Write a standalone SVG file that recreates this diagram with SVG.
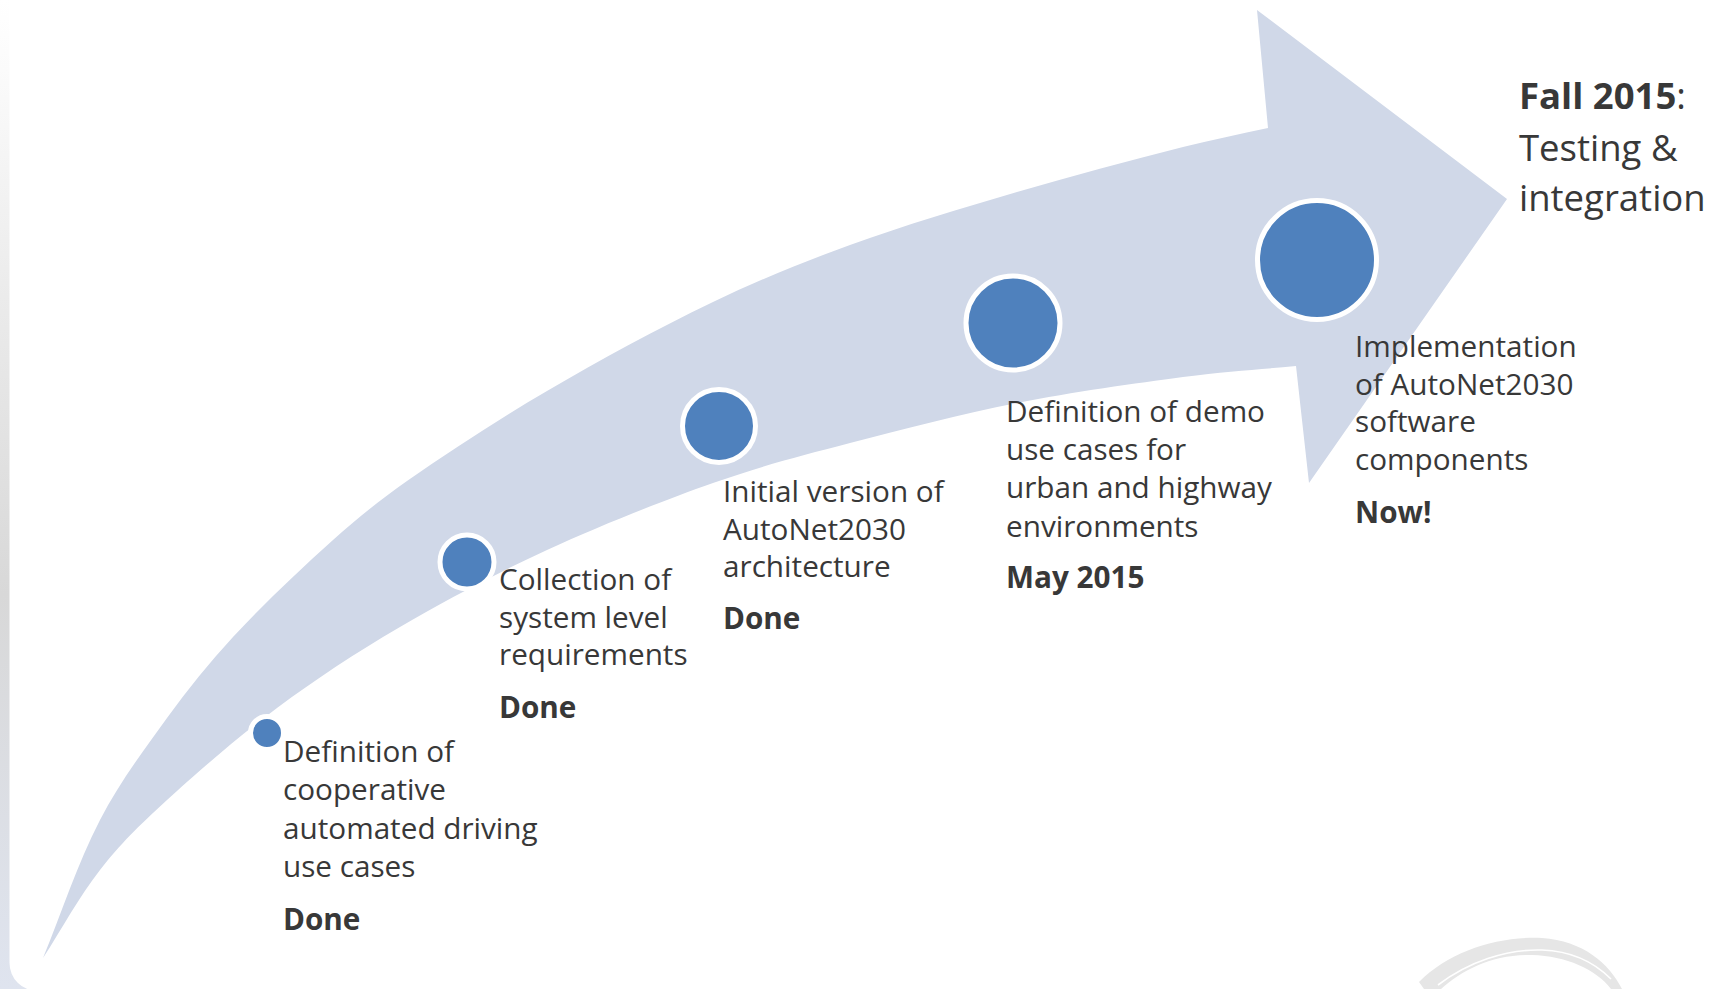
<svg xmlns="http://www.w3.org/2000/svg" width="1718" height="989" viewBox="0 0 1718 989">
  <defs>
    <linearGradient id="edgeShade" gradientUnits="userSpaceOnUse" x1="0" y1="0" x2="0" y2="989">
      <stop offset="0" stop-color="#ffffff"/>
      <stop offset="0.07" stop-color="#fbfbfb"/>
      <stop offset="0.3" stop-color="#ebebeb"/>
      <stop offset="0.6" stop-color="#d8d8d8"/>
      <stop offset="1" stop-color="#dfe4ef"/>
    </linearGradient>
    <style>
      .band { fill: #d0d8e8; }
      .dot { fill: #4f81bd; stroke: #ffffff; stroke-width: 5; }
      .lbl { font-family: "Open Sans", "Liberation Sans", sans-serif; font-size: 29.7px; fill: #383838; }
      .st { font-weight: 700; }
      .big { font-size: 36.5px; }
    </style>
  </defs>

  <!-- slide background: shaded strip on the left, white panel with rounded corner -->
  <rect x="0" y="0" width="1718" height="989" fill="url(#edgeShade)"/>
  <rect x="9.5" y="-60" width="1760" height="1051" rx="28" ry="28" fill="#ffffff"/>

  <!-- faint logo swoosh, bottom right -->
  <g id="logo-swoosh">
    <path d="M1419,982 C1450,951 1498,936 1542,938 C1583,941 1609,963 1622,989 L1611,989 C1596,969 1566,956 1532,955 C1493,954 1462,970 1441,989 L1424,989 Z" fill="#e6e6e6"/>
    <path d="M1438,985 C1468,962 1506,949 1542,950 C1570,951 1594,962 1611,979" fill="none" stroke="#ffffff" stroke-width="1.6"/>
  </g>

  <!-- curved timeline arrow -->
  <g id="connectors">
    <path id="timeline-arrow" class="band" d="M43,958
      C62,912 77.1,864.3 100,820
      C118.7,783.8 143.1,750.9 167,718
      C187.5,689.8 209.3,662.4 233,637
      C264.6,603.1 298.4,571 333,540
      C356.5,519 381.1,499 407,481
      C452.6,449.3 499.1,419 547,391
      C601.2,359.3 656.4,329.3 713,302
      C757.6,280.5 803.5,261.8 850,245
      C904.9,225.1 961,208.5 1017,192
      C1072,175.8 1127.5,161.2 1183,147
      C1211.1,139.8 1239.7,134.3 1268,128
      L1257,10 L1507,199 L1309,483 L1296,366
      C1258.3,369.7 1229.5,370.8 1183,377
      C1136.5,383.2 1072.5,392 1017,403
      C961.5,414 900.7,429.7 850,443
      C799.3,456.3 763.5,465.2 713,483
      C662.5,500.8 599.2,526 547,550
      C494.8,574 445,600.7 400,627
      C355,653.3 315.8,679.2 277,708
      C238.2,736.8 196.5,773 167,800
      C137.5,827 120.7,843.7 100,870
      C79.3,896.3 62,928.7 43,958 Z"/>
  </g>

  <g id="step-use-cases">
    <circle class="dot" cx="267" cy="733" r="16.5"/>
    <text class="lbl" x="283" y="762">Definition of</text>
    <text class="lbl" x="283" y="800">cooperative</text>
    <text class="lbl" x="283" y="839">automated driving</text>
    <text class="lbl" x="283" y="877">use cases</text>
    <text class="lbl st" x="283" y="930">Done</text>
  </g>

  <g id="step-requirements">
    <circle class="dot" cx="467" cy="562" r="27"/>
    <text class="lbl" x="499" y="590">Collection of</text>
    <text class="lbl" x="499" y="628">system level</text>
    <text class="lbl" x="499" y="665">requirements</text>
    <text class="lbl st" x="499" y="718">Done</text>
  </g>

  <g id="step-architecture">
    <circle class="dot" cx="719" cy="426" r="36.5"/>
    <text class="lbl" x="723" y="502">Initial version of</text>
    <text class="lbl" x="723" y="540">AutoNet2030</text>
    <text class="lbl" x="723" y="577">architecture</text>
    <text class="lbl st" x="723" y="629">Done</text>
  </g>

  <g id="step-demo-use-cases">
    <circle class="dot" cx="1013" cy="323" r="47"/>
    <text class="lbl" x="1006" y="422">Definition of demo</text>
    <text class="lbl" x="1006" y="460">use cases for</text>
    <text class="lbl" x="1006" y="498">urban and highway</text>
    <text class="lbl" x="1006" y="537">environments</text>
    <text class="lbl st" x="1006" y="588">May 2015</text>
  </g>

  <g id="step-implementation">
    <circle class="dot" cx="1317" cy="260" r="59.5"/>
    <text class="lbl" x="1355" y="357">Implementation</text>
    <text class="lbl" x="1355" y="395">of AutoNet2030</text>
    <text class="lbl" x="1355" y="432">software</text>
    <text class="lbl" x="1355" y="470">components</text>
    <text class="lbl st" x="1355" y="523">Now!</text>
  </g>

  <g id="step-testing">
    <text class="lbl big" x="1519" y="109"><tspan class="st">Fall 2015</tspan>:</text>
    <text class="lbl big" x="1519" y="161">Testing &amp;</text>
    <text class="lbl big" x="1519" y="211">integration</text>
  </g>
</svg>
